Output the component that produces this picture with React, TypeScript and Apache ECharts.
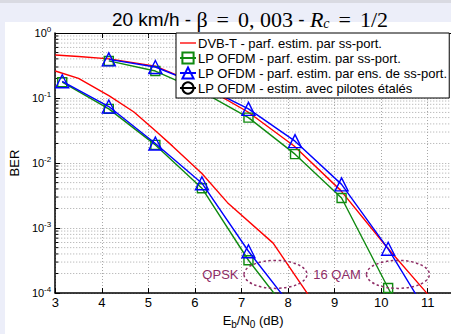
import React, { useEffect, useRef } from 'react';
import * as echarts from 'echarts';

// ---- data ----
const ebnoQpsk = [3.15, 4.15, 5.15, 6.15, 7.15, 8.15];
const lpSubQpsk = [0.175, 0.068, 0.019, 0.0041, 0.00032, 0.000038];
const lpEnsQpsk = [0.181, 0.074, 0.02, 0.0049, 0.00044, 0.000053];

const ebno16 = [4.15, 5.15, 6.15, 7.15, 8.15, 9.15, 10.15, 11.15];
const lpSub16 = [0.372, 0.26, 0.125, 0.05, 0.0137, 0.0029, 0.00012, 0.000005];
const lpEns16 = [0.393, 0.3, 0.155, 0.068, 0.0217, 0.0047, 0.00048, 0.000032];

const dvbQpskX = [3, 3.5, 4.16, 4.69, 5.17, 5.52, 6.15, 6.7, 7.68, 8.41, 8.6];
const dvbQpsk = [0.26, 0.2, 0.108, 0.061, 0.0306, 0.0182, 0.0069, 0.00246, 0.000587, 0.0001, 0.000063];
const dvb16X = [3, 3.5, 4.16, 5.15, 6.15, 7.14, 8.13, 9.13, 10.11, 10.98, 11.3];
const dvb16 = [0.46, 0.435, 0.4, 0.31, 0.155, 0.061, 0.0183, 0.0038, 0.00052, 0.0001, 0.000056];

const yDecades = [0.0001, 0.001, 0.01, 0.1, 1];
const minorMult = [2, 3, 4, 5, 6, 7, 8, 9];
const xRange = [3, 11.5];

const annotations = [
  { label: 'QPSK', x: 7.73, y: 0.000194 },
  { label: '16 QAM', x: 10.36, y: 0.000194 },
];

const nDvb = 'DVB-T - parf. estim. par ss-port.';
const nSub = 'LP OFDM - parf. estim. par ss-port.';
const nEns = 'LP OFDM - parf. estim. par ens. de ss-port.';
const nPil = 'LP OFDM - estim. avec pilotes étalés';

const RED = '#ff0000';
const GREEN = '#108a10';
const BLUE = '#0000ff';
const ANNOT = '#8e2d66';
const SANS = '"Liberation Sans", Arial, sans-serif';
const SERIF = '"Liberation Serif", "Times New Roman", serif';

const pairs = (xs: number[], ys: number[]) => xs.map((x, i) => [x, ys[i]]);

export default function App() {
  const ref = useRef<HTMLDivElement>(null);
  useEffect(() => {
    if (!ref.current) return;
    const chart = echarts.init(ref.current, null, { renderer: 'svg' });

    const yMinor: number[] = [];
    yDecades.slice(0, -1).forEach((d) => minorMult.forEach((m) => yMinor.push(d * m)));

    const markerSeries = (name: string, xs: number[], ys: number[], color: string, symbol: string, size: number) => ({
      name,
      type: 'line',
      data: pairs(xs, ys),
      symbol,
      symbolSize: size,
      showAllSymbol: true,
      clip: true,
      color,
      lineStyle: { color, width: 1.4 },
      itemStyle: { color: 'rgba(255,255,255,0)', borderColor: color, borderWidth: 1.4 },
      z: symbol === 'triangle' ? 4 : 3,
    });

    const gridLine = { type: [1, 2], color: '#a8a8a8', width: 1 };

    const option: any = {
      animation: false,
      backgroundColor: '#eceef9',
      grid: { left: 49, top: 33, width: 407, height: 268.5, containLabel: false },
      legend: {
        data: [
          { name: nDvb, icon: 'path://M0,0L12,0L12,1L0,1Z' },
          nSub,
          nEns,
          nPil,
        ],
        orient: 'vertical',
        left: 176,
        top: 33,
        padding: [3, 2, 3, 3],
        itemGap: 1,
        itemWidth: 16,
        itemHeight: 14,
        backgroundColor: '#ffffff',
        borderColor: '#000000',
        borderWidth: 1,
        selectedMode: false,
        textStyle: { fontFamily: SANS, fontSize: 13, lineHeight: 14, color: '#000', padding: [0, 0, 0, -3] },
        z: 10,
      },
      xAxis: [
        {
          type: 'value',
          min: xRange[0],
          max: xRange[1],
          interval: 1,
          axisLine: { show: true, lineStyle: { color: '#000', width: 1.5 } },
          axisTick: { show: true, inside: true, length: 5, lineStyle: { color: '#000' } },
          axisLabel: {
            showMaxLabel: false,
            margin: 3,
            fontFamily: SANS,
            fontSize: 13,
            color: '#000',
            formatter: (v: number) => (Number.isInteger(v) ? String(v) : ''),
          },
          splitLine: { show: true, lineStyle: gridLine },
          name: 'E{sub|b}/N{sub|0} (dB)',
          nameLocation: 'middle',
          nameGap: 14,
          nameTextStyle: {
            fontFamily: SANS,
            fontSize: 13,
            color: '#000',
            rich: { sub: { fontFamily: SANS, fontSize: 10, padding: [7, 0, 0, 0], color: '#000' } },
          },
        },
        {
          type: 'value',
          position: 'top',
          min: xRange[0],
          max: xRange[1],
          interval: 1,
          axisLine: { show: true, onZero: false, lineStyle: { color: '#000', width: 1 } },
          axisTick: { show: true, inside: true, length: 5, lineStyle: { color: '#000' } },
          axisLabel: { show: false },
          splitLine: { show: false },
        },
      ],
      yAxis: {
        type: 'log',
        logBase: 10,
        min: yDecades[0],
        max: yDecades[yDecades.length - 1],
        splitNumber: 4,
        axisLine: { show: true, lineStyle: { color: '#000', width: 1.5 } },
        axisTick: { show: true, inside: true, length: 5, lineStyle: { color: '#000' } },
        axisLabel: {
          margin: 4,
          fontFamily: SANS,
          fontSize: 11,
          color: '#000',
          formatter: (v: number) => '10{sup|' + Math.round(Math.log10(v)) + '}',
          rich: { sup: { fontFamily: SANS, fontSize: 8, padding: [0, 0, 8, 0], color: '#000' } },
        },
        splitLine: { show: true, lineStyle: gridLine },
        name: 'BER',
        nameLocation: 'middle',
        nameGap: 30,
        nameTextStyle: { fontFamily: SANS, fontSize: 13, color: '#000' },
      },
      series: [
        {
          type: 'custom',
          silent: true,
          z: 1,
          data: yMinor.map((v) => [xRange[0], v]),
          renderItem: (_params: any, api: any) => {
            const v = api.value(1);
            const a = api.coord([xRange[0], v]);
            const b = api.coord([xRange[1], v]);
            return {
              type: 'group',
              children: [
                {
                  type: 'line',
                  shape: { x1: a[0], y1: a[1], x2: b[0], y2: b[1] },
                  style: { stroke: '#a8a8a8', lineWidth: 1, lineDash: [1, 2] },
                },
                {
                  type: 'line',
                  shape: { x1: a[0], y1: a[1], x2: a[0] + 3, y2: a[1] },
                  style: { stroke: '#000', lineWidth: 1 },
                },
              ],
            };
          },
        },
        {
          name: nDvb,
          type: 'line',
          data: pairs(dvbQpskX, dvbQpsk),
          symbol: 'none',
          color: RED,
          lineStyle: { color: RED, width: 1.4 },
          clip: true,
          z: 2,
        },
        {
          name: nDvb,
          type: 'line',
          data: pairs(dvb16X, dvb16),
          symbol: 'none',
          color: RED,
          lineStyle: { color: RED, width: 1.4 },
          clip: true,
          z: 2,
        },
        markerSeries(nSub, ebnoQpsk, lpSubQpsk, GREEN, 'rect', 9),
        markerSeries(nSub, ebno16, lpSub16, GREEN, 'rect', 9),
        markerSeries(nEns, ebnoQpsk, lpEnsQpsk, BLUE, 'triangle', 13),
        markerSeries(nEns, ebno16, lpEns16, BLUE, 'triangle', 13),
        {
          name: nPil,
          type: 'line',
          data: [],
          symbol: 'circle',
          symbolSize: 11,
          color: '#000',
          lineStyle: { color: '#000', width: 1.4 },
          itemStyle: { color: 'rgba(255,255,255,0)', borderColor: '#000', borderWidth: 1.4 },
        },
      ],
    };

    chart.setOption(option);

    const annotGraphics: any[] = [];
    annotations.forEach((a) => {
      const p = chart.convertToPixel({ gridIndex: 0 }, [a.x, a.y]) as number[];
      annotGraphics.push({
        type: 'ellipse',
        shape: { cx: p[0], cy: p[1], rx: 31.5, ry: 14 },
        style: { fill: 'none', stroke: ANNOT, lineWidth: 1.5, lineDash: [2.5, 2.5] },
        z: 20,
      });
      annotGraphics.push({
        type: 'text',
        x: p[0] - 37,
        y: p[1],
        style: {
          text: a.label,
          fill: ANNOT,
          font: '13px ' + SANS,
          align: 'right',
          verticalAlign: 'middle',
        },
        z: 20,
      });
    });

    chart.setOption({
      graphic: {
        elements: [
          { type: 'rect', shape: { x: 0, y: 0, width: 451, height: 3 }, style: { fill: '#d9dae2' }, z: -100, silent: true },
          { type: 'rect', shape: { x: 5, y: 22, width: 446, height: 312 }, style: { fill: '#ffffff' }, z: -100, silent: true },
          {
            type: 'text',
            x: 250,
            y: 19,
            style: {
              text: '{s|20 km/h - }{m|β}{eq|=}{m|0, 003}{s| - }{i|R}{sub|c}{eq|=}{m|1/2}',
              align: 'center',
              verticalAlign: 'middle',
              fill: '#000',
              rich: {
                s: { fontFamily: SANS, fontSize: 19, fill: '#000' },
                m: { fontFamily: SERIF, fontSize: 22, fill: '#000' },
                eq: { fontFamily: SERIF, fontSize: 22, fill: '#000', padding: [0, 9, 0, 9] },
                i: { fontFamily: SERIF, fontSize: 22, fontStyle: 'italic', fill: '#000' },
                sub: { fontFamily: SERIF, fontSize: 14, fontStyle: 'italic', padding: [8, 0, 0, 0], fill: '#000' },
              },
            },
            z: 20,
          },
          ...annotGraphics,
        ],
      },
    });

    return () => chart.dispose();
  }, []);

  return (
    <div
      ref={ref}
      style={{ position: 'fixed', left: 0, top: 0, width: 451, height: 334 }}
    />
  );
}
